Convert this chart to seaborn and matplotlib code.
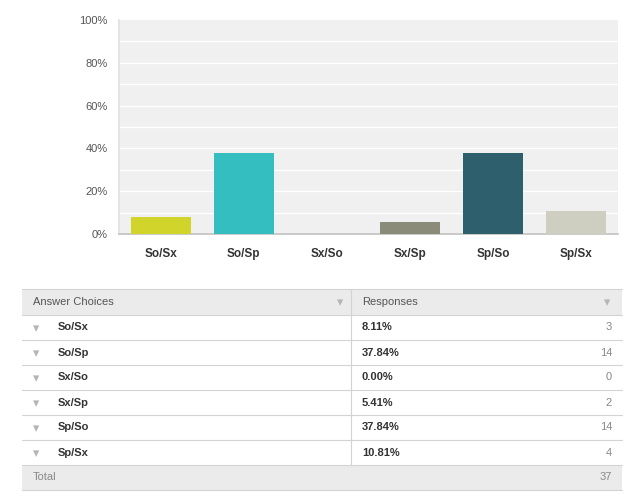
import numpy as np
import pandas as pd
import matplotlib
matplotlib.use("Agg")
import matplotlib.pyplot as plt
import seaborn as sns
from matplotlib.patches import Rectangle

# data
choices = ["So/Sx", "So/Sp", "Sx/So", "Sx/Sp", "Sp/So", "Sp/Sx"]
percents = [8.11, 37.84, 0.00, 5.41, 37.84, 10.81]
counts = [3, 14, 0, 2, 14, 4]
total = 37
bar_colors = ["#d1d52b", "#34bec0", "#8fa0a0", "#8b8b79", "#2e5f6c", "#cfcfc1"]
y_ticks = [0, 20, 40, 60, 80, 100]

sns.set_theme(style="white")
plt.rcParams["font.family"] = ["Liberation Sans", "DejaVu Sans"]

df = pd.DataFrame({"choice": choices, "pct": percents})

W, H = 633, 500
fig = plt.figure(figsize=(W / 100, H / 100), dpi=100)

# bar chart area
ax = fig.add_axes([119 / W, 1 - 234 / H, (618 - 119) / W, (234 - 20) / H])
ax.set_facecolor("#f0f0f0")
sns.barplot(data=df, x="choice", y="pct", hue="choice", palette=bar_colors,
            saturation=1, width=0.72, linewidth=0, edgecolor="none",
            legend=False, ax=ax, zorder=3)
ax.set_xlim(-0.5, 5.5)
ax.set_ylim(0, 100)
ax.set_yticks(y_ticks)
ax.set_yticklabels([f"{t}%" for t in y_ticks], fontsize=8, color="#555555")
for g in range(10, 100, 10):
    ax.axhline(g, color="white", lw=1, zorder=1)
ax.set_xlabel("")
ax.set_ylabel("")
ax.tick_params(axis="y", length=0, pad=8)
ax.tick_params(axis="x", length=0, pad=10)
for lab in ax.get_xticklabels():
    lab.set_fontweight("bold")
    lab.set_fontsize(8.5)
    lab.set_color("#333333")
for side in ["top", "right"]:
    ax.spines[side].set_visible(False)
ax.spines["left"].set_color("#e2e2e2")
ax.spines["bottom"].set_color("#c4c4c4")

# table below, drawn in pixel coordinates
tx = fig.add_axes([0, 0, 1, 1])
tx.set_xlim(0, W)
tx.set_ylim(H, 0)
tx.axis("off")

left, right, mid = 22, 622, 351
top = 289
hdr_h = 26
row_h = 25
line_c = "#d3d3d3"
arrow_c = "#b5b5b5"

tx.add_patch(Rectangle((left, top), right - left, hdr_h, facecolor="#ebebeb", edgecolor="none"))
y_tot = top + hdr_h + row_h * len(choices)
tx.add_patch(Rectangle((left, y_tot), right - left, row_h, facecolor="#ebebeb", edgecolor="none"))

tx.text(33, top + hdr_h / 2, "Answer Choices", fontsize=8, color="#555555", va="center")
tx.text(362, top + hdr_h / 2, "Responses", fontsize=8, color="#555555", va="center")
tx.text(340, top + hdr_h / 2 + 1, "▾", fontsize=9, color=arrow_c, va="center", ha="center",
        family="DejaVu Sans")
tx.text(607, top + hdr_h / 2 + 1, "▾", fontsize=9, color=arrow_c, va="center", ha="center",
        family="DejaVu Sans")

tx.plot([left, right], [top, top], color=line_c, lw=0.8)
tx.plot([mid, mid], [top, y_tot], color=line_c, lw=0.8)

for i, (c, p, n) in enumerate(zip(choices, percents, counts)):
    y0 = top + hdr_h + row_h * i
    tx.plot([left, right], [y0, y0], color=line_c, lw=0.8)
    yc = y0 + row_h / 2
    tx.text(36, yc + 1, "▾", fontsize=9, color=arrow_c, va="center", ha="center",
            family="DejaVu Sans")
    tx.text(58, yc, c, fontsize=8, fontweight="bold", color="#333333", va="center")
    tx.text(362, yc, f"{p:.2f}%", fontsize=8, fontweight="bold", color="#333333", va="center")
    tx.text(612, yc, str(n), fontsize=8, color="#888888", va="center", ha="right")

tx.plot([left, right], [y_tot, y_tot], color=line_c, lw=0.8)
tx.plot([left, right], [y_tot + row_h, y_tot + row_h], color=line_c, lw=0.8)
tx.text(33, y_tot + row_h / 2, "Total", fontsize=8, color="#888888", va="center")
tx.text(612, y_tot + row_h / 2, str(total), fontsize=8, color="#888888", va="center", ha="right")

fig.savefig("out.png", dpi=100)
